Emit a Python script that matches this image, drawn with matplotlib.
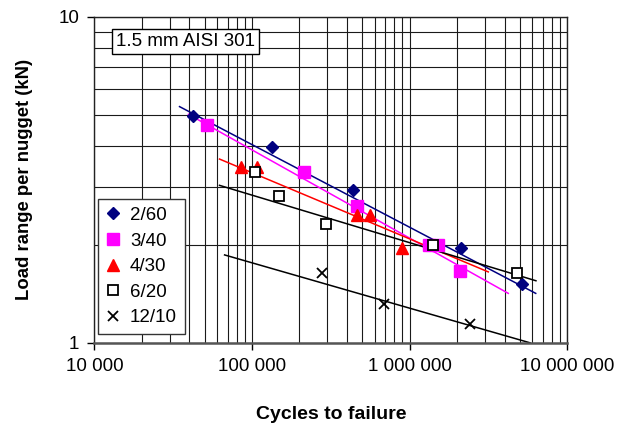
import matplotlib
matplotlib.use('Agg')
import matplotlib.pyplot as plt
from matplotlib.ticker import FixedLocator, FuncFormatter, NullFormatter

plt.rcParams['font.family'] = ['Liberation Sans', 'DejaVu Sans']

# Measured points (cycles, load range kN)
x_260 = [42000, 134000, 435000, 2110000, 5180000]
y_260 = [4.97, 3.99, 2.94, 1.95, 1.51]
x_340 = [51600, 213000, 461000, 1330000, 1510000, 2070000]
y_340 = [4.65, 3.33, 2.63, 1.99, 1.99, 1.66]
x_430 = [85200, 108000, 466000, 560000, 898000]
y_430 = [3.47, 3.47, 2.46, 2.46, 1.96]
x_620 = [104000, 149000, 296000, 1410000, 4770000]
y_620 = [3.33, 2.81, 2.31, 1.99, 1.64]
x_1210 = [278000, 690000, 2410000]
y_1210 = [1.64, 1.32, 1.14]

# Trend line end points
tx_260, ty_260 = [34700, 6300000], [5.30, 1.418]
tx_340, ty_340 = [39500, 4220000], [5.02, 1.418]
tx_430, ty_430 = [62200, 3150000], [3.66, 1.65]
tx_620, ty_620 = [62200, 6320000], [3.04, 1.55]
tx_1210, ty_1210 = [67000, 5800000], [1.86, 1.0]

fig = plt.figure(figsize=(6.29, 4.28), dpi=100)
ax = fig.add_axes([0.150, 0.199, 0.752, 0.762])
ax.set_xscale('log')
ax.set_yscale('log')
ax.set_xlim(1e4, 1e7)
ax.set_ylim(1, 10)

# grid
ax.xaxis.set_major_locator(FixedLocator([1e4, 1e5, 1e6, 1e7]))
ax.xaxis.set_minor_locator(FixedLocator([m * 10**e for e in (4, 5, 6) for m in range(2, 10)]))
ax.yaxis.set_major_locator(FixedLocator([1, 10]))
ax.yaxis.set_minor_locator(FixedLocator(list(range(2, 10))))
ax.xaxis.set_minor_formatter(NullFormatter())
ax.yaxis.set_minor_formatter(NullFormatter())
ax.xaxis.set_major_formatter(FuncFormatter(lambda v, p: f'{int(round(v)):,}'.replace(',', ' ')))
ax.yaxis.set_major_formatter(FuncFormatter(lambda v, p: f'{int(round(v))}'))
ax.grid(True, which='both', color='#1a1a1a', linewidth=0.8)
ax.set_axisbelow(True)
ax.tick_params(which='minor', length=0)
ax.tick_params(which='major', length=5, width=1, labelsize=13.5, direction='out', pad=6)

for s in ax.spines.values():
    s.set_color('#222222')
    s.set_linewidth(1)
ax.spines['bottom'].set_color('#555555')
ax.spines['bottom'].set_linewidth(1.8)

# trend lines
ax.plot(tx_260, ty_260, color='#000080', lw=1.1)
ax.plot(tx_340, ty_340, color='#ff00ff', lw=1.1)
ax.plot(tx_430, ty_430, color='#ff0000', lw=1.1)
ax.plot(tx_620, ty_620, color='black', lw=1.1)
ax.plot(tx_1210, ty_1210, color='black', lw=1.1)

# points
ax.plot(x_260, y_260, 'D', color='#000080', ms=6.5, ls='none', label='2/60')
ax.plot(x_340, y_340, 's', color='#ff00ff', ms=8, ls='none', label='3/40')
ax.plot(x_430, y_430, '^', color='#ff0000', ms=8.5, ls='none', label='4/30')
ax.plot(x_620, y_620, 's', mfc='white', mec='black', mew=1.3, ms=7, ls='none', label='6/20')
ax.plot(x_1210, y_1210, 'x', color='black', mew=1.3, ms=7, ls='none', label='12/10')

leg = ax.legend(loc='lower left', bbox_to_anchor=(0.008, 0.028), fontsize=13.5,
                frameon=True, fancybox=False, edgecolor='#333333', framealpha=1,
                handlelength=0.8, handletextpad=0.5, borderpad=0.4, labelspacing=0.45,
                borderaxespad=0)
leg.get_frame().set_linewidth(1)

ax.text(0.045, 0.951, '1.5 mm AISI 301', transform=ax.transAxes, fontsize=13.5,
        va='top', ha='left',
        bbox=dict(boxstyle='square,pad=0.22', fc='white', ec='black', lw=1))

ax.set_xlabel('Cycles to failure', fontsize=14, fontweight='bold', labelpad=22)
ax.set_ylabel('Load range per nugget (kN)', fontsize=13.3, fontweight='bold', labelpad=18)

fig.savefig('out.png', dpi=100)
